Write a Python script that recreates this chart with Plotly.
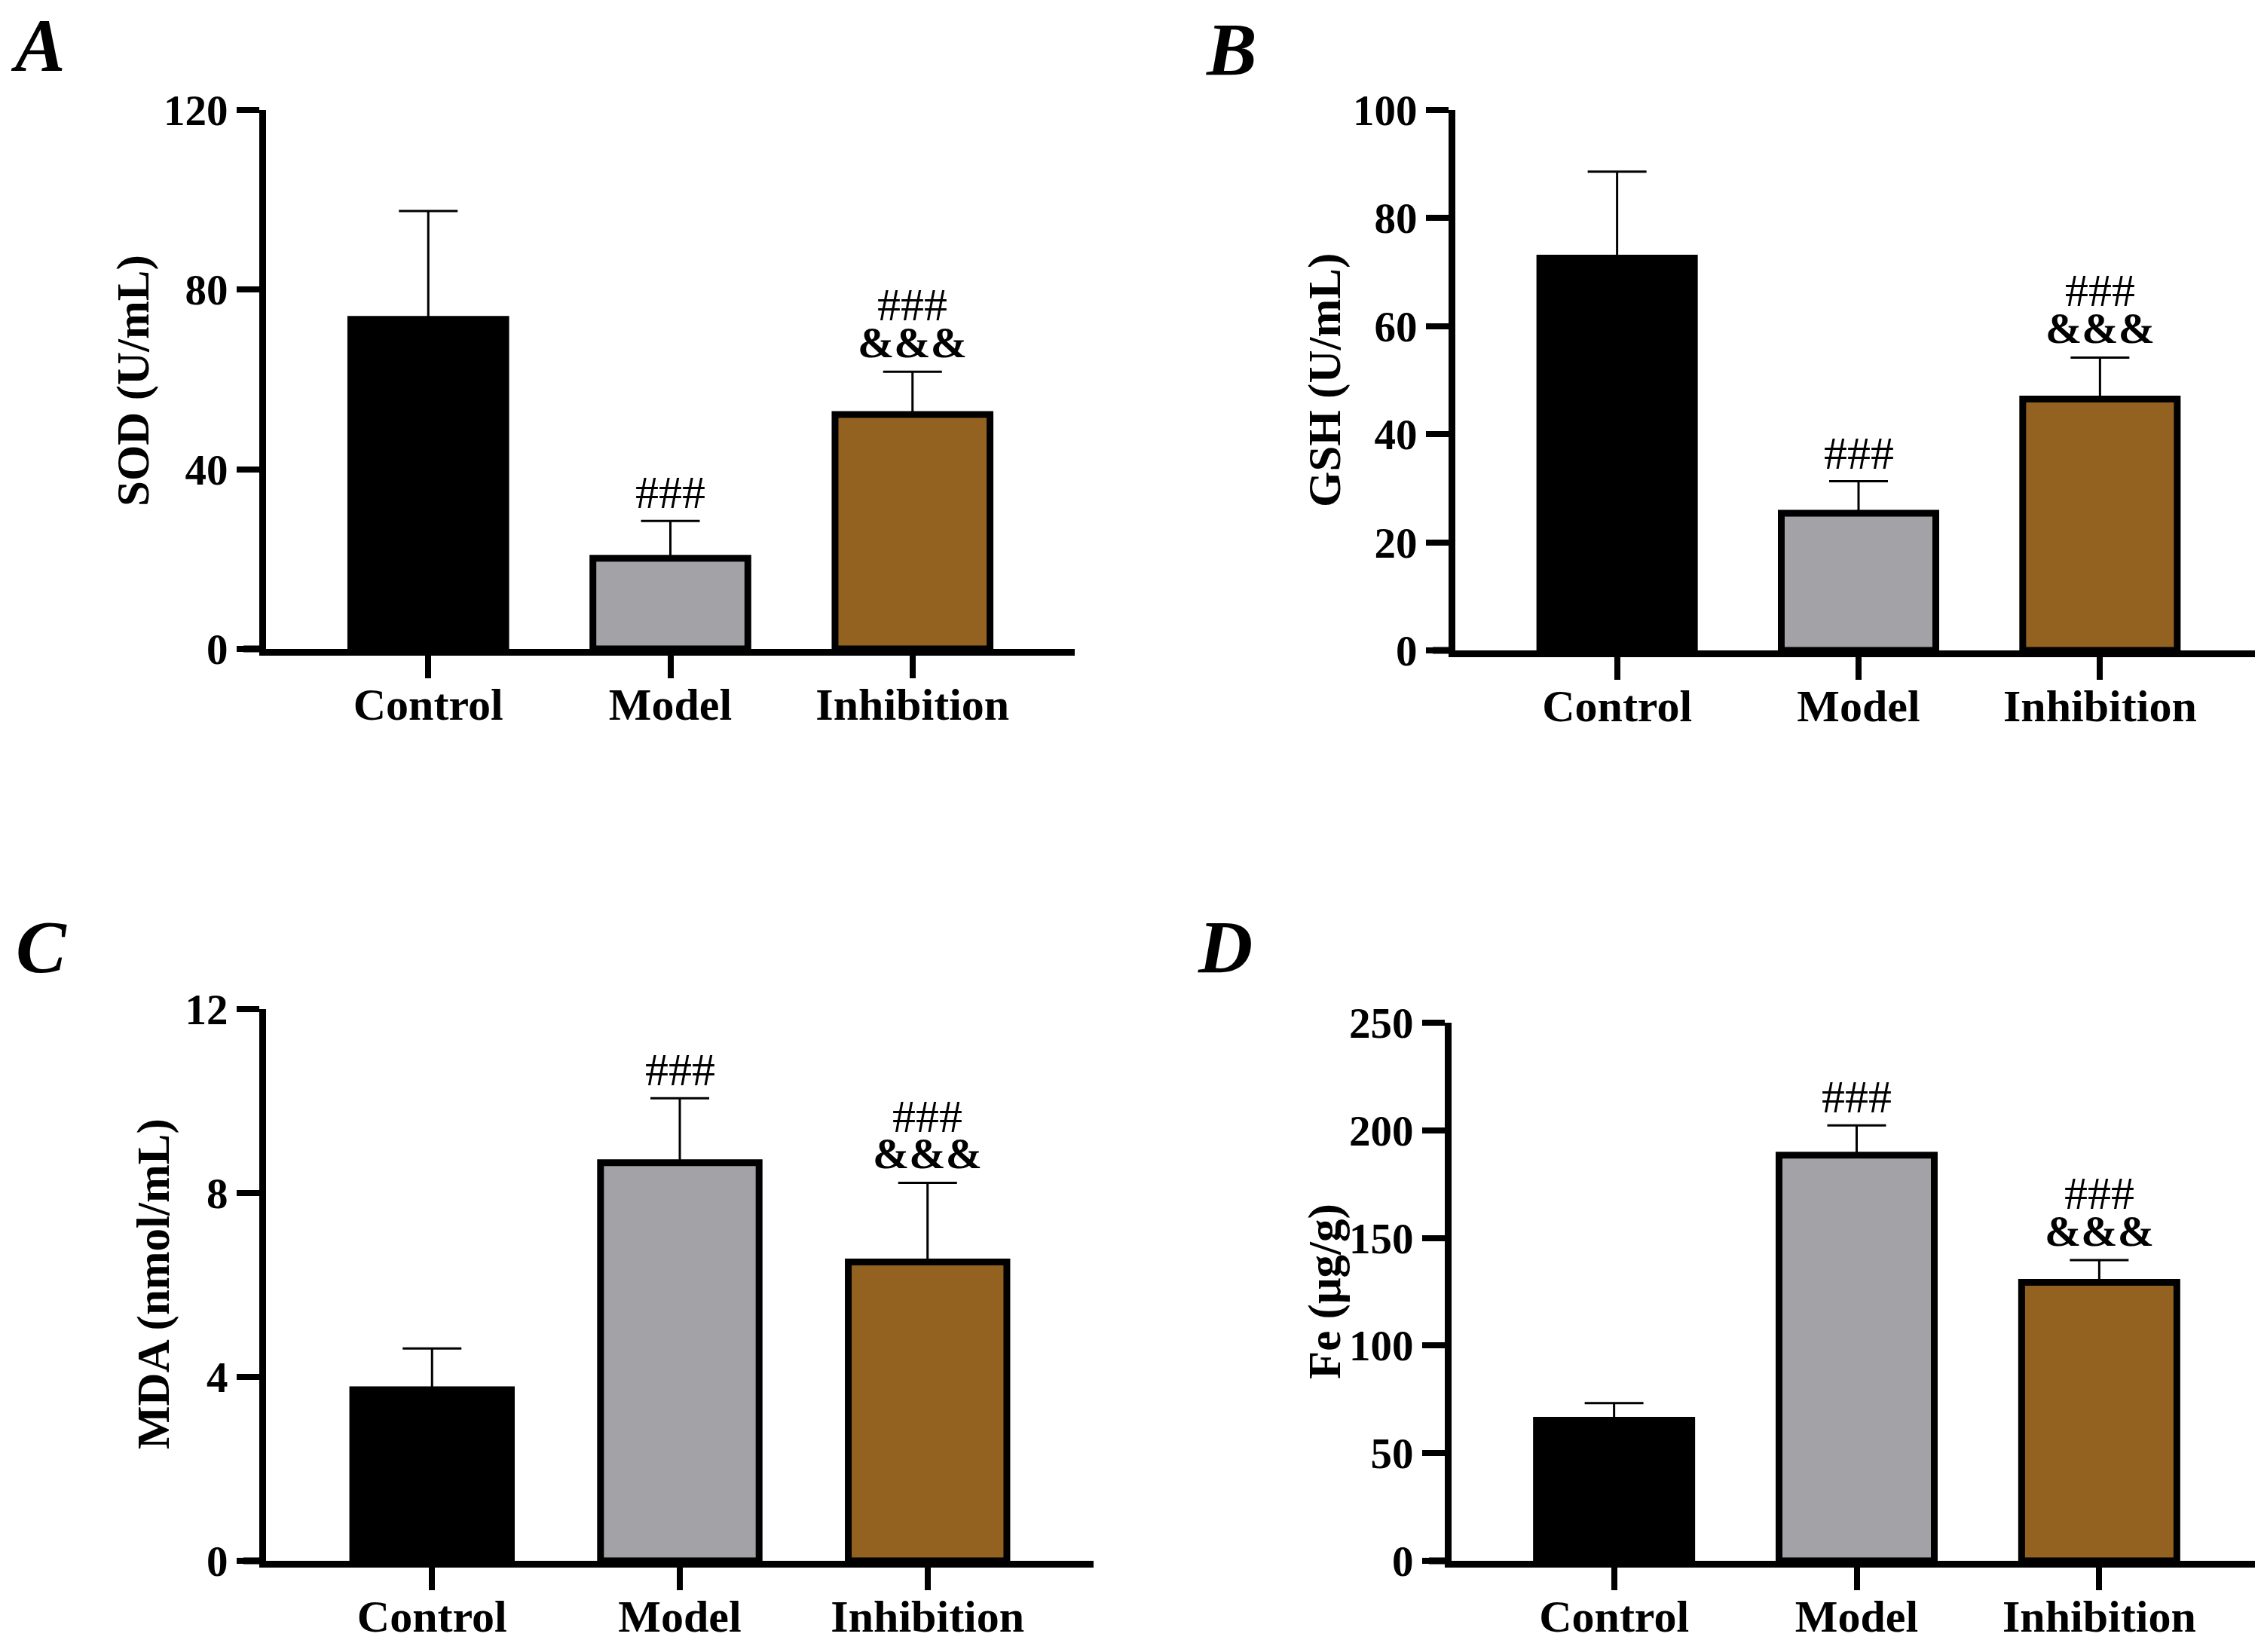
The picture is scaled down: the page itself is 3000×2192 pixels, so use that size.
import plotly.graph_objects as go

W, H = 3000, 2192
# the page body adds a small margin; pixel positions are shifted back by it
DX, DY = 1, 9

groups = ["Control", "Model", "Inhibition"]
bar_colors = ["#000000", "#a3a2a7", "#946220"]

sod_mean = [73.4, 20.2, 52.2]
sod_sd = [24.1, 8.3, 9.5]
gsh_mean = [72.6, 25.4, 46.5]
gsh_sd = [16.0, 5.9, 7.7]
mda_mean = [3.72, 8.66, 6.50]
mda_sd = [0.90, 1.40, 1.72]
fe_mean = [65.3, 188.5, 129.4]
fe_sd = [8.0, 13.8, 10.3]

sod_ticks = [0, 40, 80, 120]
gsh_ticks = [0, 20, 40, 60, 80, 100]
mda_ticks = [0, 4, 8, 12]
fe_ticks = [0, 50, 100, 150, 200, 250]

# significance marks above each bar (top line, bottom line)
sig_top = ["", "###", "###"]
sig_bottom = ["", "", "&&&"]

# panel boxes in pixels: left, right, top, bottom (axis lines)
panels = [
    dict(letter="A", title="SOD (U/mL)", mean=sod_mean, sd=sod_sd, ticks=sod_ticks,
         box=(346, 1419, 147, 862), letter_xy=(43, 62), title_xy=(170, 506)),
    dict(letter="B", title="GSH (U/mL)", mean=gsh_mean, sd=gsh_sd, ticks=gsh_ticks,
         box=(1924, 2994, 147, 864), letter_xy=(1627, 67), title_xy=(1751, 506)),
    dict(letter="C", title="MDA (nmol/mL)", mean=mda_mean, sd=mda_sd, ticks=mda_ticks,
         box=(346, 1444, 1340, 2072), letter_xy=(48, 1257), title_xy=(197, 1704)),
    dict(letter="D", title="Fe (μg/g)", mean=fe_mean, sd=fe_sd, ticks=fe_ticks,
         box=(1919, 2994, 1358, 2072), letter_xy=(1618, 1257), title_xy=(1751, 1715)),
]


def px(x):
    return (x - DX) / W


def py(y):
    return 1 - (y - DY) / H


SERIF = "Liberation Serif"
fig = go.Figure()
layout = {}
annotations = []
shapes = []

for i, p in enumerate(panels):
    n = "" if i == 0 else str(i + 1)
    xa, ya = "x" + n, "y" + n
    left, right, top, bottom = p["box"]

    fig.add_trace(go.Bar(
        x=groups, y=p["mean"], xaxis=xa, yaxis=ya,
        width=0.64,
        marker=dict(color=bar_colors, line=dict(color="black", width=9)),
        error_y=dict(type="data", symmetric=False, array=p["sd"],
                     arrayminus=[0] * len(groups),
                     color="black", thickness=3, width=39),
        showlegend=False,
    ))

    layout["xaxis" + n] = dict(
        domain=[px(left), min(px(right), 1)], anchor=ya,
        range=[-0.67, 2.67], showline=True, linewidth=9, linecolor="black",
        ticks="outside", ticklen=30, tickwidth=8, tickcolor="black",
        ticklabelstandoff=-17,
        tickfont=dict(family=SERIF, size=60, color="black", weight="bold"),
        showgrid=False, zeroline=False, fixedrange=True,
    )
    layout["yaxis" + n] = dict(
        domain=[py(bottom), py(top)], anchor=xa,
        range=[0, p["ticks"][-1]], tickvals=p["ticks"],
        showline=True, linewidth=9, linecolor="black",
        ticks="outside", ticklen=30, tickwidth=8, tickcolor="black",
        tickfont=dict(family=SERIF, size=57, color="black", weight="bold"),
        showgrid=False, zeroline=False, fixedrange=True,
    )

    # x axis line continues left under the y ticks
    shapes.append(dict(type="line", xref="paper", yref="paper",
                       x0=px(left - 30), x1=px(left),
                       y0=py(bottom), y1=py(bottom),
                       line=dict(color="black", width=9)))

    annotations.append(dict(
        text=p["letter"], xref="paper", yref="paper", showarrow=False,
        x=px(p["letter_xy"][0]), y=py(p["letter_xy"][1]),
        xanchor="center", yanchor="middle",
        font=dict(family=SERIF, size=100, color="black", weight="bold", style="italic"),
    ))
    annotations.append(dict(
        text=p["title"], xref="paper", yref="paper", showarrow=False,
        x=px(p["title_xy"][0]), y=py(p["title_xy"][1]),
        xanchor="center", yanchor="middle", textangle=-90,
        font=dict(family=SERIF, size=61, color="black", weight="bold"),
    ))

    for g, m, s, t, b in zip(groups, p["mean"], p["sd"], sig_top, sig_bottom):
        if b:
            annotations.append(dict(
                text=b, x=g, y=m + s, xref=xa, yref=ya, showarrow=False,
                xanchor="center", yanchor="middle", yshift=39,
                font=dict(family=SERIF, size=58, color="black", weight="bold"),
            ))
            annotations.append(dict(
                text=t, x=g, y=m + s, xref=xa, yref=ya, showarrow=False,
                xanchor="center", yanchor="middle", yshift=89,
                font=dict(family=SERIF, size=62, color="black"),
            ))
        elif t:
            annotations.append(dict(
                text=t, x=g, y=m + s, xref=xa, yref=ya, showarrow=False,
                xanchor="center", yanchor="middle", yshift=38,
                font=dict(family=SERIF, size=62, color="black"),
            ))

fig.update_layout(
    **layout,
    annotations=annotations,
    shapes=shapes,
    width=W, height=H,
    margin=dict(l=0, r=0, t=0, b=0, autoexpand=False),
    paper_bgcolor="white", plot_bgcolor="white",
)

fig.write_html("out.html")
